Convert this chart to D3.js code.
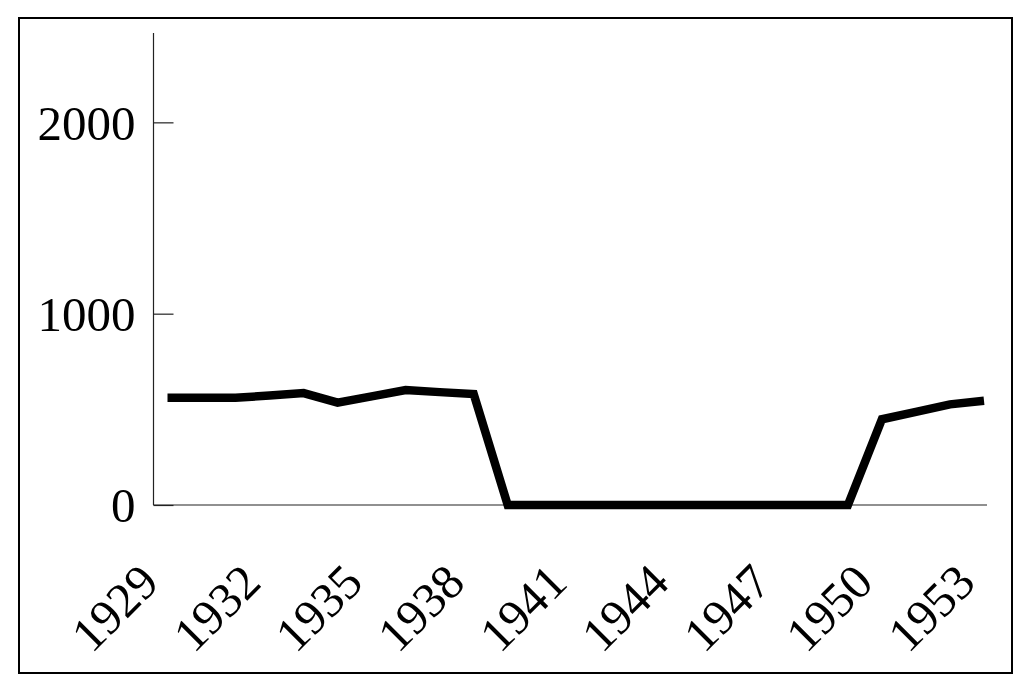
<!DOCTYPE html>
<html><head><meta charset="utf-8">
<script src="https://cdn.jsdelivr.net/npm/d3@7"></script>
<style>html,body{margin:0;padding:0;background:#fff;} svg{display:block;}</style>
</head><body>
<svg id="chart" width="1031" height="681"></svg>
<script>
const years = [1929,1930,1931,1932,1933,1934,1935,1936,1937,1938,1939,1940,1941,1942,1943,1944,1945,1946,1947,1948,1949,1950,1951,1952,1953];
const values = [561,561,561,572,585,535,568,601,590,580,0,0,0,0,0,0,0,0,0,0,0,448,487,526,545];
const xTickYears = [1929,1932,1935,1938,1941,1944,1947,1950,1953];
const yTicks = [0,1000,2000];

const svg = d3.select("#chart");
const font = "'Liberation Serif','Times New Roman',serif";

svg.append("rect").attr("x",19).attr("y",18).attr("width",993).attr("height",655)
  .attr("fill","none").attr("stroke","#000").attr("stroke-width",2);

const x = d3.scaleLinear().domain([1929,1953]).range([167.5,984]);
const y = d3.scaleLinear().domain([0,2467]).range([505,33]);

// y axis
const yAx = svg.append("g").attr("transform","translate(153.5,0)")
  .call(d3.axisRight(y).tickValues(yTicks).tickSize(20).tickFormat(d3.format("d")));
yAx.select(".domain").attr("stroke","#222").attr("stroke-width",1.2).attr("d","M0,33V505");
yAx.selectAll(".tick line").attr("stroke","#222").attr("stroke-width",1.2);
yAx.selectAll(".tick text").attr("x",-18).attr("text-anchor","end").attr("dy","0.34em")
  .attr("font-family",font).attr("font-size",49).attr("fill","#000");

// x axis
const xAx = svg.append("g").attr("transform","translate(0,505)")
  .call(d3.axisBottom(x).tickValues(xTickYears).tickSize(0).tickFormat(d3.format("d")));
xAx.select(".domain").attr("stroke","#222").attr("stroke-width",1.2).attr("d","M153.5,0H987");
xAx.selectAll(".tick text")
  .attr("font-family",font).attr("font-size",49).attr("fill","#000")
  .attr("text-anchor","end").attr("y",0).attr("dy",0)
  .attr("transform","translate(-7,80) rotate(-45)");

// line
const line = d3.line().x((d,i)=>x(years[i])).y(d=>y(d));
svg.append("path").datum(values).attr("d",line)
  .attr("fill","none").attr("stroke","#000").attr("stroke-width",8.5)
  .attr("stroke-linejoin","miter").attr("stroke-linecap","butt");
</script>
</body></html>
